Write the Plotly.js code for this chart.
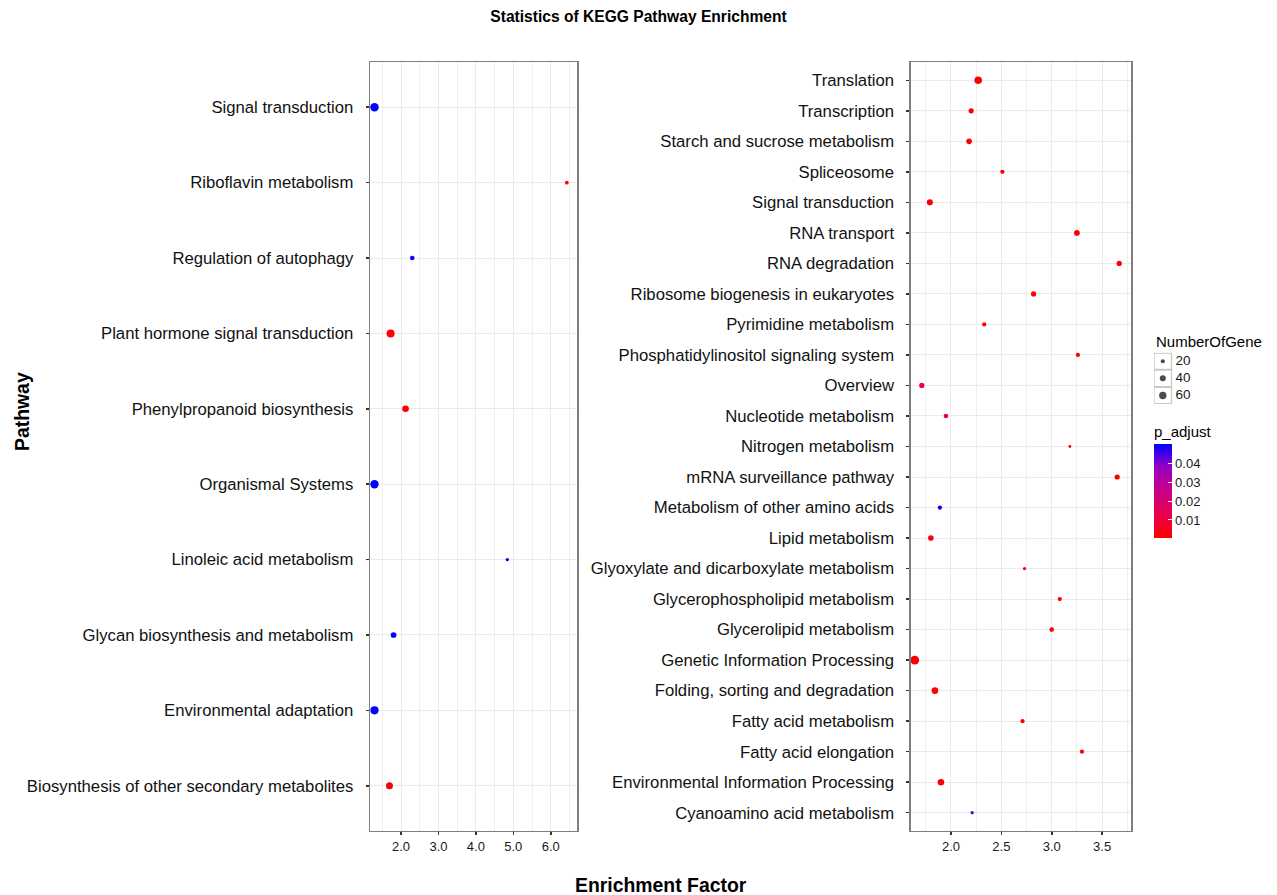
<!DOCTYPE html>
<html>
<head>
<meta charset="utf-8">
<script src="https://cdn.plot.ly/plotly-3.0.1.min.js"></script>
<style>html,body{margin:0;padding:0;background:#fff;}#chart{width:1277px;height:895px;}</style>
</head>
<body>
<div id="chart"></div>
<script>
// ---------- DATA ----------
const leftPathways = ['Signal transduction','Riboflavin metabolism','Regulation of autophagy','Plant hormone signal transduction','Phenylpropanoid biosynthesis','Organismal Systems','Linoleic acid metabolism','Glycan biosynthesis and metabolism','Environmental adaptation','Biosynthesis of other secondary metabolites'];
const leftFactor = [1.29, 6.43, 2.30, 1.72, 2.12, 1.29, 4.84, 1.80, 1.29, 1.69];
const leftGenes  = [80, 16, 24, 72, 49, 78, 12, 36, 75, 55];
const leftPadj   = [0.0497, 0.0008, 0.0490, 0.0012, 0.0015, 0.0497, 0.0499, 0.0493, 0.0497, 0.0010];

const rightPathways = ['Translation','Transcription','Starch and sucrose metabolism','Spliceosome','Signal transduction','RNA transport','RNA degradation','Ribosome biogenesis in eukaryotes','Pyrimidine metabolism','Phosphatidylinositol signaling system','Overview','Nucleotide metabolism','Nitrogen metabolism','mRNA surveillance pathway','Metabolism of other amino acids','Lipid metabolism','Glyoxylate and dicarboxylate metabolism','Glycerophospholipid metabolism','Glycerolipid metabolism','Genetic Information Processing','Folding, sorting and degradation','Fatty acid metabolism','Fatty acid elongation','Environmental Information Processing','Cyanoamino acid metabolism'];
const rightFactor = [2.27, 2.20, 2.18, 2.51, 1.79, 3.25, 3.67, 2.82, 2.33, 3.26, 1.71, 1.95, 3.18, 3.65, 1.89, 1.80, 2.73, 3.08, 3.00, 1.64, 1.84, 2.71, 3.30, 1.90, 2.21];
const rightGenes  = [63, 30, 35, 20, 41, 36, 30, 30, 20, 20, 30, 24, 9, 30, 20, 35, 12, 20, 24, 88, 48, 20, 20, 48, 12];
const rightPadj   = [0.0002, 0.0010, 0.0010, 0.0012, 0.0008, 0.0010, 0.0012, 0.0010, 0.0015, 0.0015, 0.0105, 0.0110, 0.0025, 0.0015, 0.0485, 0.0040, 0.0060, 0.0015, 0.0012, 0.0002, 0.0008, 0.0015, 0.0015, 0.0006, 0.0440];

const sizeLegendValues = [20, 40, 60];
const sizeLegendLabels = ['20', '40', '60'];
const padjTicks = [0.01, 0.02, 0.03, 0.04];
const padjTickLabels = ['0.01', '0.02', '0.03', '0.04'];

// ---------- STYLE ----------
const W = 1277, H = 895;
const FONT = 'Liberation Sans, Arial, sans-serif';
const colorscale = [[0, '#FF0000'], [0.25, 'rgb(231,0,79)'], [0.5, 'rgb(200,0,136)'], [0.75, 'rgb(153,0,194)'], [1, '#0000FF']];
const allP = leftPadj.concat(rightPadj);
const cmin = Math.min(...allP), cmax = Math.max(...allP);
const SIZEREF = 2.22;

const px = v => v / W;
const py = v => 1 - v / H;

const yDomain = [py(831), py(62)];

function markerFor(genes, padj, showscale) {
  const m = {
    size: genes, sizemode: 'area', sizeref: SIZEREF,
    color: padj, colorscale: colorscale, cmin: cmin, cmax: cmax,
    line: {width: 0}, opacity: 1
  };
  if (showscale) {
    m.showscale = true;
    m.colorbar = {
      x: px(1154), xanchor: 'left', y: py(538.5), yanchor: 'bottom',
      lenmode: 'pixels', len: 116, thicknessmode: 'pixels', thickness: 18,
      outlinewidth: 0, xpad: 0, ypad: 0,
      ticks: 'inside', ticklen: 4, tickwidth: 1, tickcolor: '#ffffff',
      tickvals: padjTicks, ticktext: padjTickLabels,
      tickfont: {family: FONT, size: 13, color: '#1a1a1a'},
      title: {text: 'p_adjust', side: 'top', font: {family: FONT, size: 15, color: '#000'}}
    };
  } else {
    m.showscale = false;
  }
  return m;
}

const traces = [
  {
    type: 'scatter', mode: 'markers', x: leftFactor, y: leftPathways,
    xaxis: 'x', yaxis: 'y', marker: markerFor(leftGenes, leftPadj, true),
    cliponaxis: false, showlegend: false, hoverinfo: 'none'
  },
  {
    type: 'scatter', mode: 'markers', x: rightFactor, y: rightPathways,
    xaxis: 'x2', yaxis: 'y2', marker: markerFor(rightGenes, rightPadj, false),
    cliponaxis: false, showlegend: false, hoverinfo: 'none'
  },
  // size legend keys
  {
    type: 'scatter', mode: 'markers', x: sizeLegendValues.map(() => 8.8), y: sizeLegendValues.map((v, i) => i),
    xaxis: 'x3', yaxis: 'y3',
    marker: {size: sizeLegendValues, sizemode: 'area', sizeref: SIZEREF, color: '#000', line: {width: 0}},
    cliponaxis: false, showlegend: false, hoverinfo: 'none'
  },
  {
    type: 'scatter', mode: 'text', x: sizeLegendValues.map(() => 21.5), y: sizeLegendValues.map((v, i) => i),
    xaxis: 'x3', yaxis: 'y3', text: sizeLegendLabels, textposition: 'middle right',
    textfont: {family: FONT, size: 13.5, color: '#1a1a1a'},
    cliponaxis: false, showlegend: false, hoverinfo: 'none'
  }
];

function xAxis(domain, range, dtick, minorDtick, anchor) {
  return {
    domain: domain, range: range, anchor: anchor, dtick: dtick, tick0: 0, tickformat: '.1f',
    showgrid: true, gridcolor: '#EBEBEB', gridwidth: 1,
    minor: {dtick: minorDtick, tick0: 0, showgrid: true, gridcolor: '#EFEFEF', gridwidth: 1},
    zeroline: false, showline: true, mirror: true, linecolor: '#7F7F7F', linewidth: 1.3,
    ticks: 'outside', ticklen: 3, tickwidth: 1.6, tickcolor: '#333333',
    tickfont: {family: FONT, size: 13, color: '#1a1a1a'}, fixedrange: true
  };
}
function yAxis(domain, cats, anchor) {
  return {
    domain: domain, type: 'category', categoryorder: 'array', categoryarray: cats,
    range: [cats.length - 1 + 0.6, -0.6], anchor: anchor,
    showgrid: true, gridcolor: '#EBEBEB', gridwidth: 1,
    zeroline: false, showline: true, mirror: true, linecolor: '#7F7F7F', linewidth: 1.3,
    ticks: 'outside', ticklen: 3, tickwidth: 1.6, tickcolor: '#333333',
    ticklabelstandoff: 9,
    tickfont: {family: FONT, size: 16.7, color: '#111111'}, fixedrange: true
  };
}

const shapes = sizeLegendValues.map((v, i) => ({
  type: 'rect', xref: 'x3', yref: 'y3', x0: 0, x1: 17.5, y0: i - 0.48, y1: i + 0.48,
  line: {color: '#C8C8C8', width: 1.3}, fillcolor: 'rgba(255,255,255,0)', layer: 'below'
}));

const layout = {
  width: W, height: H,
  margin: {l: 0, r: 0, t: 0, b: 0, pad: 0},
  paper_bgcolor: '#ffffff', plot_bgcolor: '#ffffff',
  showlegend: false,
  font: {family: FONT, color: '#000'},
  title: {text: '<b>Statistics of KEGG Pathway Enrichment</b>', x: px(638.5), xanchor: 'center', xref: 'paper',
          y: py(17), yanchor: 'middle', yref: 'paper', font: {family: FONT, size: 15.6, color: '#000'}},
  xaxis: xAxis([px(370), px(577.3)], [1.17, 6.71], 1, 0.5, 'y'),
  yaxis: yAxis(yDomain, leftPathways, 'x'),
  xaxis2: xAxis([px(910.7), px(1131.3)], [1.60, 3.79], 0.5, 0.25, 'y2'),
  yaxis2: yAxis(yDomain, rightPathways, 'x2'),
  xaxis3: {domain: [px(1154), px(1200)], range: [0, 46], visible: false, anchor: 'y3', fixedrange: true},
  yaxis3: {domain: [py(404), py(352.7)], range: [2.5, -0.5], visible: false, anchor: 'x3', fixedrange: true},
  shapes: shapes,
  annotations: [
    {text: '<b>Pathway</b>', xref: 'paper', yref: 'paper', x: px(22), y: py(412), xanchor: 'center', yanchor: 'middle',
     textangle: -90, showarrow: false, font: {family: FONT, size: 19.4, color: '#000'}},
    {text: '<b>Enrichment Factor</b>', xref: 'paper', yref: 'paper', x: px(661), y: py(885), xanchor: 'center', yanchor: 'middle',
     showarrow: false, font: {family: FONT, size: 19.4, color: '#000'}},
    {text: 'NumberOfGene', xref: 'paper', yref: 'paper', x: px(1154), y: py(341), xanchor: 'left', yanchor: 'middle',
     showarrow: false, font: {family: FONT, size: 15, color: '#000'}}
  ]
};

Plotly.newPlot('chart', traces, layout, {staticPlot: true, displayModeBar: false});
</script>
</body>
</html>
